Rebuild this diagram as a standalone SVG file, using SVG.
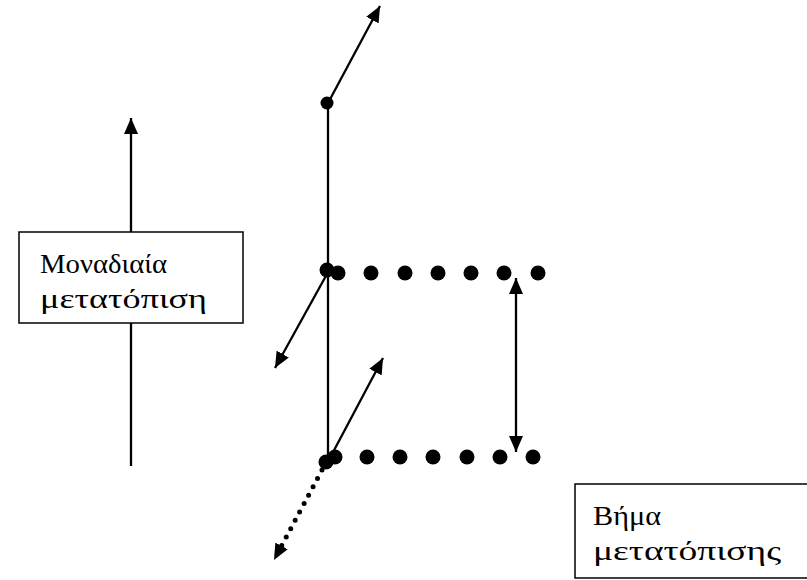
<svg xmlns="http://www.w3.org/2000/svg" width="807" height="580" viewBox="0 0 807 580">
<style>
.ln{stroke:#000;stroke-width:2.3;fill:none}
.dt{fill:#000}
.box{fill:#fff;stroke:#000;stroke-width:1.5}
.lbl{font-family:"Liberation Serif","Times New Roman",serif;font-size:27px;fill:#000}
</style>
<defs>
<marker id="ah" markerUnits="userSpaceOnUse" markerWidth="17" markerHeight="14" refX="16" refY="7" orient="auto">
<path d="M0,0 L16,7 L0,14 Z" fill="#000"/>
</marker>
<marker id="as" markerUnits="userSpaceOnUse" markerWidth="17" markerHeight="14" refX="0" refY="7" orient="auto">
<path d="M16,0 L0,7 L16,14 Z" fill="#000"/>
</marker>
</defs>
<rect width="807" height="580" fill="#fff"/>
<g id="connectors">
<line class="ln" x1="131" y1="466" x2="131" y2="118" marker-end="url(#ah)"/>
<line class="ln" x1="328" y1="103" x2="328" y2="457"/>
<line class="ln" x1="328" y1="103" x2="380" y2="6" marker-end="url(#ah)"/>
<line class="ln" x1="327" y1="274" x2="275" y2="368" marker-end="url(#ah)"/>
<line class="ln" x1="331" y1="456" x2="383" y2="358" marker-end="url(#ah)"/>
<line x1="516" y1="278" x2="516" y2="452" class="ln" marker-start="url(#as)" marker-end="url(#ah)"/>
<line x1="322" y1="470" x2="274" y2="560" stroke="#000" stroke-width="5" stroke-linecap="round" stroke-dasharray="0 9.5" marker-end="url(#ah)"/>
</g>
<g id="top-dot"><circle class="dt" cx="327" cy="103" r="6.5"/></g>
<g id="row-upper">
<circle class="dt" cx="327" cy="270" r="7.5"/>
<circle class="dt" cx="338" cy="273" r="7.5"/>
<circle class="dt" cx="371" cy="273" r="7.5"/>
<circle class="dt" cx="405" cy="273" r="7.5"/>
<circle class="dt" cx="438" cy="273" r="7.5"/>
<circle class="dt" cx="471" cy="273" r="7.5"/>
<circle class="dt" cx="504" cy="273" r="7.5"/>
<circle class="dt" cx="538" cy="273" r="7.5"/>
</g>
<g id="row-lower">
<circle class="dt" cx="326" cy="462" r="7.5"/>
<circle class="dt" cx="335" cy="457" r="7.5"/>
<circle class="dt" cx="367" cy="457" r="7.5"/>
<circle class="dt" cx="400" cy="457" r="7.5"/>
<circle class="dt" cx="433" cy="457" r="7.5"/>
<circle class="dt" cx="467" cy="457" r="7.5"/>
<circle class="dt" cx="500" cy="457" r="7.5"/>
<circle class="dt" cx="533" cy="457" r="7.5"/>
</g>
<g id="unit-box">
<rect class="box" x="19" y="232" width="224" height="91"/>
<text class="lbl" x="40" y="273" textLength="127" lengthAdjust="spacingAndGlyphs">Μοναδιαία</text>
<text class="lbl" x="40" y="308" textLength="167" lengthAdjust="spacingAndGlyphs">μετατόπιση</text>
</g>
<g id="step-box">
<rect class="box" x="575" y="484" width="240" height="94"/>
<text class="lbl" x="593" y="525" textLength="68" lengthAdjust="spacingAndGlyphs">Βήμα</text>
<text class="lbl" x="593" y="560" textLength="188" lengthAdjust="spacingAndGlyphs">μετατόπισης</text>
</g>
</svg>
